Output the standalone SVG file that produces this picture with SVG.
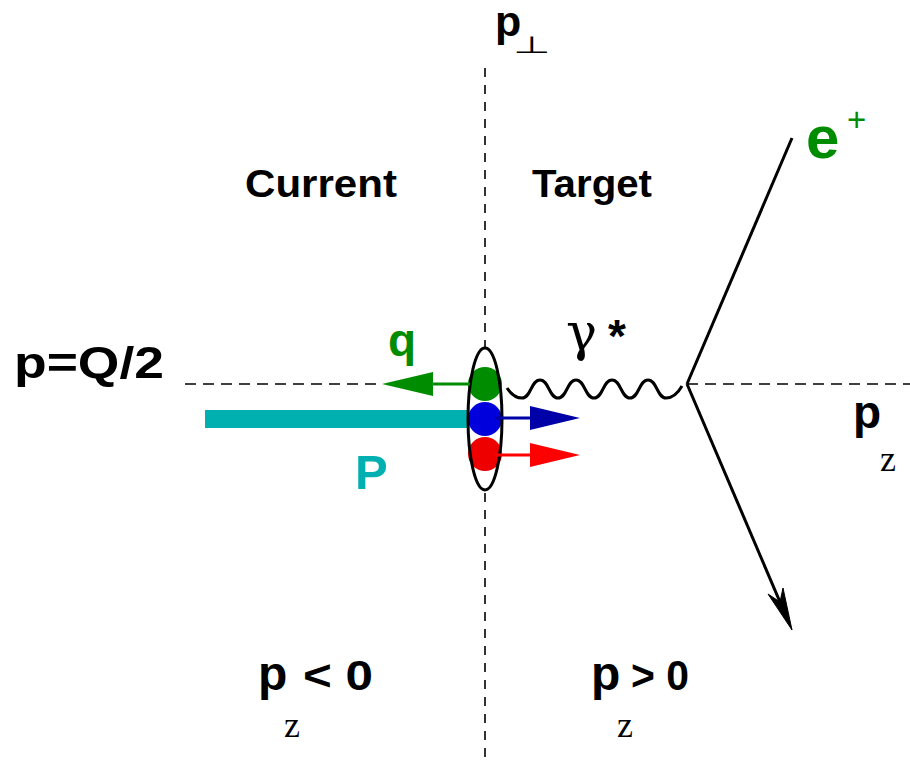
<svg xmlns="http://www.w3.org/2000/svg" width="910" height="762" viewBox="0 0 910 762">
<style>
.lbl{font-family:"Liberation Sans",Arial,sans-serif;font-weight:bold;fill:#000}
.sub{font-family:"Liberation Serif","Times New Roman",serif;fill:#000}
.dash{stroke:#000;stroke-width:1.6;fill:none}
.line{stroke:#000;stroke-width:3;fill:none}
</style>
<rect width="910" height="762" fill="#fff"/>
<g id="axes">
<line class="dash" x1="485" y1="68" x2="485" y2="762" stroke-dasharray="9 8"/>
<line class="dash" x1="185" y1="384" x2="382" y2="384" stroke-dasharray="11 7"/>
<line class="dash" x1="687" y1="384" x2="910" y2="384" stroke-dasharray="11 7"/>
</g>
<g id="proton-beam">
<rect x="205" y="410" width="268" height="18" fill="#00b0b0"/>
</g>
<g id="proton">
<ellipse cx="485" cy="419" rx="17" ry="71" fill="#fff"/>
<circle cx="485" cy="384" r="17" fill="#008c00"/>
<circle cx="485" cy="419" r="17" fill="#0000dd"/>
<circle cx="485" cy="454" r="17" fill="#ee0000"/>
<ellipse cx="485" cy="419" rx="17" ry="71" fill="none" stroke="#000" stroke-width="3"/>
</g>
<g id="connectors">
<line x1="430" y1="384" x2="470" y2="384" stroke="#008c00" stroke-width="3"/>
<polygon points="382,384 433,372 433,396" fill="#008c00"/>
<line x1="495" y1="418" x2="532" y2="418" stroke="#0000a8" stroke-width="3"/>
<polygon points="530,406 580,418 530,430" fill="#0000a8"/>
<line x1="495" y1="455" x2="532" y2="455" stroke="#ff0000" stroke-width="3"/>
<polygon points="530,443 580,455 530,467" fill="#ff0000"/>
<path class="line" d="M507,388 C511,394 516,398 522,398 C531,398 531,380 540,380 C549,380 549,398 558,398 C567,398 567,380 576,380 C585,380 585,398 594,398 C603,398 603,380 612,380 C621,380 621,398 630,398 C639,398 639,380 648,380 C657,380 657,398 666,398 C673,398 678,393 682,386"/>
<line class="line" x1="792" y1="138" x2="687" y2="384"/>
<line class="line" x1="687" y1="384" x2="780" y2="602"/>
<polygon points="792,630 768,594 780,602 783,588" fill="#000" stroke="#000" stroke-width="1"/>
</g>
<g id="labels">
<text class="lbl" x="495" y="36" font-size="43">p</text>
<text x="0" y="0" font-family="DejaVu Sans,sans-serif" font-size="36" transform="translate(513,53) scale(1.2,0.66)">⊥</text>
<text class="lbl" x="245" y="197" font-size="38" textLength="152" lengthAdjust="spacingAndGlyphs">Current</text>
<text class="lbl" x="532" y="197" font-size="38" textLength="120" lengthAdjust="spacingAndGlyphs">Target</text>
<text class="lbl" x="14" y="378" font-size="44" textLength="150" lengthAdjust="spacingAndGlyphs">p=Q/2</text>
<text class="lbl" x="388" y="356" font-size="46" style="fill:#008c00">q</text>
<text class="lbl" x="355" y="489" font-size="49" style="fill:#00b0b0">P</text>
<text x="566" y="350" font-family="DejaVu Serif,serif" font-size="52">γ</text>
<text x="608" y="352" font-family="Liberation Sans,sans-serif" font-weight="bold" font-size="46">*</text>
<text class="lbl" x="806" y="158" font-size="60" style="fill:#008c00">e</text>
<text x="847" y="131" font-family="Liberation Sans,sans-serif" font-size="33" fill="#008c00">+</text>
<text class="lbl" x="853" y="428" font-size="46">p</text>
<text class="sub" x="880" y="471" font-size="36">z</text>
<text class="lbl" x="258" y="690" font-size="48">p</text>
<text class="lbl" x="303" y="690" font-size="42" textLength="70" lengthAdjust="spacingAndGlyphs">&lt; 0</text>
<text class="sub" x="284" y="737" font-size="36">z</text>
<text class="lbl" x="591" y="690" font-size="48">p</text>
<text class="lbl" x="631" y="690" font-size="42" textLength="58" lengthAdjust="spacingAndGlyphs">&gt; 0</text>
<text class="sub" x="617" y="737" font-size="36">z</text>
</g>
</svg>
